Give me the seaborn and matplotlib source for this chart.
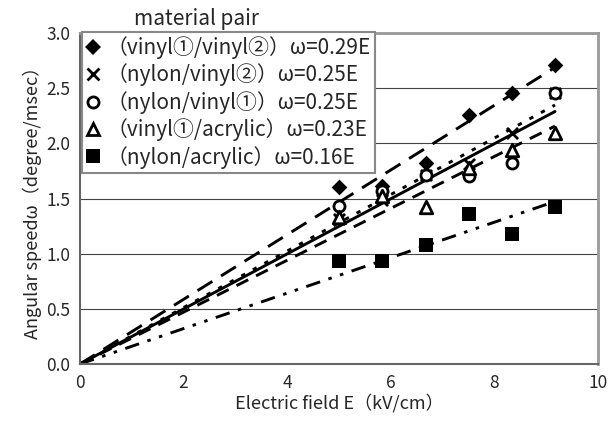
"Angular speed vs electric field for material pairs"

import numpy as np
import pandas as pd
import matplotlib
matplotlib.use('Agg')
import matplotlib.pyplot as plt
from matplotlib.lines import Line2D
import seaborn as sns

# Data
E_field = [5.0, 5.83, 6.67, 7.5, 8.33, 9.17]   # kV/cm
pairs = ['（vinyl①/vinyl②）', '（nylon/vinyl②）', '（nylon/vinyl①）',
         '（vinyl①/acrylic）', '（nylon/acrylic）']
slope_labels = ['0.29', '0.25', '0.25', '0.23', '0.16']
omega_v1_v2 = [1.60, 1.61, 1.82, 2.26, 2.46, 2.71]
omega_ny_v2 = [1.31, 1.49, 1.71, 1.81, 2.09, 2.46]
omega_ny_v1 = [1.43, 1.57, 1.71, 1.70, 1.82, 2.46]
omega_v1_ac = [1.33, 1.52, 1.42, 1.78, 1.94, 2.09]
omega_ny_ac = [0.93, 0.93, 1.08, 1.36, 1.18, 1.42]
series = [omega_v1_v2, omega_ny_v2, omega_ny_v1, omega_v1_ac, omega_ny_ac]

# marker styles: (marker, size, filled)
marker_styles = [('D', 8, True), ('x', 8, False), ('o', 8, False),
                 ('^', 9, False), ('s', 10, True)]
line_dashes = [(6, 3.5), (1.5, 3), (), (4.5, 3), (5, 3, 1.2, 3, 1.2, 3)]

rows = []
for name, vals in zip(pairs, series):
    for e, w in zip(E_field, vals):
        rows.append({'pair': name, 'E': e, 'omega': w})
df = pd.DataFrame(rows)

sns.set_style('white')
plt.rcParams['font.family'] = ['Noto Sans CJK JP', 'DejaVu Sans']

fig = plt.figure(figsize=(6.08, 4.29), dpi=100)
ax = fig.add_axes([0.1316, 0.1515, 0.852, 0.7715])

handles = []
for i, name in enumerate(pairs):
    sub = df[df['pair'] == name]
    # trendline through the origin (least squares)
    k = (sub['E'] * sub['omega']).sum() / (sub['E'] ** 2).sum()
    fit = pd.DataFrame({'E': [0, max(E_field)]})
    fit['omega'] = k * fit['E']
    sns.lineplot(data=fit, x='E', y='omega', ax=ax, color='black', lw=2.1,
                 dashes=False, zorder=2)
    ln = ax.get_lines()[-1]
    if line_dashes[i]:
        ln.set_dashes(line_dashes[i])

    mk, ms, filled = marker_styles[i]
    if mk == 'x':
        sns.scatterplot(data=sub, x='E', y='omega', ax=ax, marker='x',
                        s=ms ** 2, color='black', linewidth=2, zorder=3)
    else:
        sns.scatterplot(data=sub, x='E', y='omega', ax=ax, marker=mk,
                        s=ms ** 2, facecolor='black' if filled else 'white',
                        edgecolor='black', linewidth=0 if filled else 2,
                        zorder=3)
    handles.append(Line2D([], [], ls='none', marker=mk, ms=ms,
                          mfc='black' if filled else 'white', mec='black',
                          mew=2 if not filled else 0, color='black',
                          label=f'{name}ω={slope_labels[i]}E'))

ax.set_xlim(0, 10)
ax.set_ylim(0, 3.0)
ax.set_xticks(np.arange(0, 11, 2))
ax.set_yticks(np.arange(0, 3.01, 0.5))
ax.set_yticklabels([f'{v:.1f}' for v in np.arange(0, 3.01, 0.5)])
ax.yaxis.grid(True, color='#444444', lw=0.8)
ax.set_axisbelow(True)
ax.tick_params(direction='in', length=4, labelsize=12.5, color='#555555', pad=7)

for side in ['left', 'bottom']:
    ax.spines[side].set_color('#666666')
    ax.spines[side].set_linewidth(1.5)
for side in ['top', 'right']:
    ax.spines[side].set_color('#999999')
    ax.spines[side].set_linewidth(2)

ax.set_xlabel('Electric field E（kV/cm）', fontsize=13, labelpad=1)
ax.set_ylabel('Angular speedω（degree/msec）', fontsize=13, labelpad=3)

leg = ax.legend(handles=handles, loc='upper left', bbox_to_anchor=(0.003, 1.003),
                fontsize=15, frameon=True, fancybox=False, framealpha=1,
                edgecolor='#888888', handlelength=0.7, handletextpad=0.3,
                labelspacing=0.22, borderpad=0.2, borderaxespad=0)
leg.get_frame().set_linewidth(1.5)

ax.text(0.105, 1.01, 'material pair', transform=ax.transAxes, fontsize=15,
        ha='left', va='bottom')

fig.savefig('out.png', dpi=100)
